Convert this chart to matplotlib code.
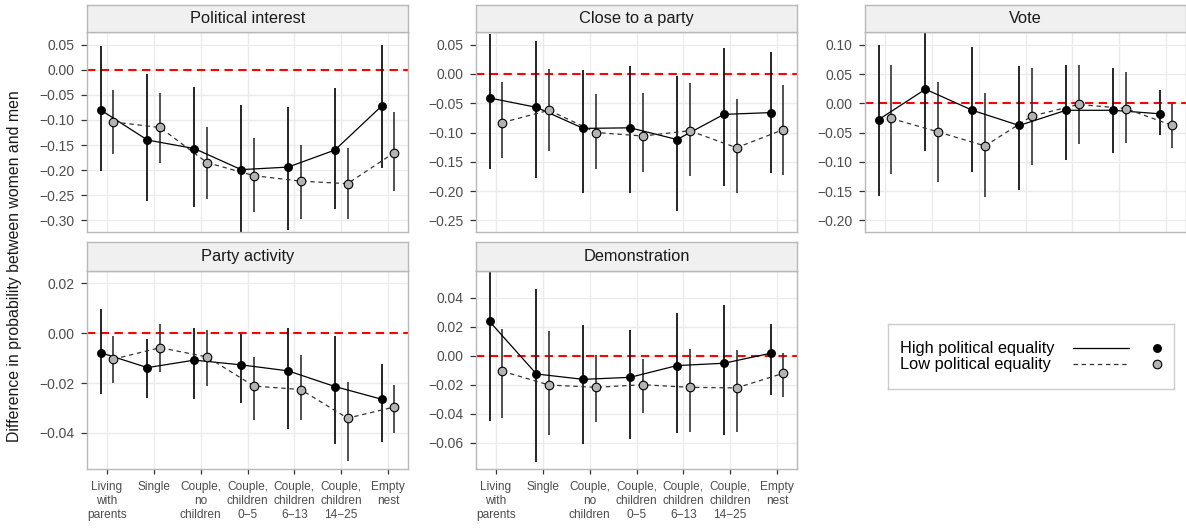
import matplotlib
matplotlib.use("Agg")
import matplotlib.pyplot as plt
from matplotlib.lines import Line2D
import numpy as np

plt.rcParams['font.family'] = ['Liberation Sans', 'DejaVu Sans']

categories = ["Living\nwith\nparents", "Single", "Couple,\nno\nchildren",
              "Couple,\nchildren\n0\u22125", "Couple,\nchildren\n6\u221213",
              "Couple,\nchildren\n14\u221225", "Empty\nnest"]
series_names = ["High political equality", "Low political equality"]

# Political interest
interest_high = [-0.080, -0.140, -0.157, -0.199, -0.194, -0.160, -0.072]
interest_high_lo = [-0.201, -0.261, -0.273, -0.327, -0.319, -0.277, -0.195]
interest_high_hi = [0.047, -0.008, -0.035, -0.071, -0.075, -0.037, 0.050]
interest_low = [-0.104, -0.115, -0.185, -0.211, -0.222, -0.227, -0.165]
interest_low_lo = [-0.167, -0.185, -0.257, -0.283, -0.297, -0.298, -0.241]
interest_low_hi = [-0.041, -0.047, -0.115, -0.135, -0.149, -0.155, -0.084]
interest_ticks = [0.05, 0.00, -0.05, -0.10, -0.15, -0.20, -0.25, -0.30]

# Close to a party
close_high = [-0.041, -0.057, -0.093, -0.092, -0.112, -0.069, -0.066]
close_high_lo = [-0.163, -0.177, -0.203, -0.203, -0.234, -0.191, -0.170]
close_high_hi = [0.068, 0.057, 0.007, 0.013, -0.003, 0.045, 0.037]
close_low = [-0.083, -0.062, -0.100, -0.106, -0.097, -0.126, -0.095]
close_low_lo = [-0.144, -0.131, -0.162, -0.168, -0.174, -0.203, -0.173]
close_low_hi = [-0.014, 0.009, -0.035, -0.033, -0.015, -0.043, -0.018]
close_ticks = [0.05, 0.00, -0.05, -0.10, -0.15, -0.20, -0.25]

# Vote
vote_high = [-0.028, 0.024, -0.012, -0.038, -0.012, -0.012, -0.018]
vote_high_lo = [-0.159, -0.082, -0.117, -0.148, -0.097, -0.085, -0.055]
vote_high_hi = [0.100, 0.130, 0.097, 0.063, 0.066, 0.061, 0.022]
vote_low = [-0.026, -0.049, -0.073, -0.022, -0.002, -0.009, -0.038]
vote_low_lo = [-0.121, -0.135, -0.161, -0.106, -0.069, -0.068, -0.076]
vote_low_hi = [0.066, 0.036, 0.017, 0.060, 0.066, 0.054, -0.002]
vote_ticks = [0.10, 0.05, 0.00, -0.05, -0.10, -0.15, -0.20]

# Party activity
activity_high = [-0.0078, -0.0138, -0.0108, -0.0127, -0.0151, -0.0214, -0.0265]
activity_high_lo = [-0.0245, -0.0259, -0.0263, -0.0281, -0.0386, -0.0446, -0.0435]
activity_high_hi = [0.0096, -0.0024, 0.0020, -0.0004, 0.0019, -0.0011, -0.0125]
activity_low = [-0.0104, -0.0058, -0.0095, -0.0212, -0.0226, -0.0341, -0.0296]
activity_low_lo = [-0.0201, -0.0155, -0.0212, -0.0349, -0.0348, -0.0513, -0.0399]
activity_low_hi = [-0.0011, 0.0039, 0.0012, -0.0094, -0.0088, -0.0196, -0.0208]
activity_ticks = [0.02, 0.00, -0.02, -0.04]

# Demonstration
demo_high = [0.0237, -0.0125, -0.0162, -0.0148, -0.0067, -0.0051, 0.0018]
demo_high_lo = [-0.0448, -0.0730, -0.0610, -0.0574, -0.0533, -0.0545, -0.0268]
demo_high_hi = [0.0920, 0.0459, 0.0210, 0.0180, 0.0295, 0.0353, 0.0217]
demo_low = [-0.0106, -0.0201, -0.0217, -0.0199, -0.0217, -0.0221, -0.0120]
demo_low_lo = [-0.0429, -0.0547, -0.0455, -0.0395, -0.0522, -0.0524, -0.0282]
demo_low_hi = [0.0187, 0.0170, 0.0007, -0.0021, 0.0048, 0.0037, 0.0018]
demo_ticks = [0.04, 0.02, 0.00, -0.02, -0.04, -0.06]

W, H = 1186, 529
fig = plt.figure(figsize=(W / 100, H / 100), dpi=100)
fig.patch.set_facecolor('white')

def fx(px):
    return px / W

def fy(px):
    return 1 - px / H

col_left = [87, 476, 865]
col_w = 321
rows = [(4.5, 32.3, 232.3), (242, 270.7, 469)]

GRID = '#EBEBEB'
BORDER = '#B8B8B8'
TXT = '#4D4D4D'

def make_panel(col, row, title, hi, hi_lo, hi_hi, lo, lo_lo, lo_hi, ticks, ylim, show_x):
    l = col_left[col]
    st, pt, pb = rows[row]
    ax = fig.add_axes([fx(l), fy(pb), fx(col_w), (pb - pt) / H])
    sax = fig.add_axes([fx(l), fy(pt), fx(col_w), (pt - st) / H])
    sax.set_facecolor('#F0F0F0')
    sax.set_xticks([]); sax.set_yticks([])
    for s in sax.spines.values():
        s.set_color(BORDER); s.set_linewidth(1.0)
    sax.text(0.5, 0.5, title, ha='center', va='center', fontsize=11.8,
             color='#1A1A1A', transform=sax.transAxes)

    x = np.arange(1, len(categories) + 1)
    d = 0.135
    ax.set_xlim(0.575, 7.425)
    ax.set_ylim(*ylim)
    ax.set_axisbelow(True)
    ax.grid(True, color=GRID, linewidth=1.0)
    ax.axhline(0, color='#FF0000', linewidth=1.5, dashes=(4, 2.6), zorder=1.5)

    xh = x - d
    xl = x + d
    ax.vlines(xh, hi_lo, hi_hi, color='black', linewidth=1.2, zorder=2)
    ax.plot(xh, hi, color='black', linewidth=0.9, zorder=3)
    ax.plot(xh, hi, 'o', color='black', markersize=5.4, zorder=4)
    ax.vlines(xl, lo_lo, lo_hi, color='#333333', linewidth=1.2, zorder=2)
    ax.plot(xl, lo, color='#333333', linewidth=0.9, dashes=(3.5, 3.0), zorder=3)
    ax.plot(xl, lo, 'o', markerfacecolor='#B3B3B3', markeredgecolor='black',
            markeredgewidth=0.8, markersize=6.2, zorder=5)

    ax.set_yticks(ticks)
    ax.set_yticklabels([f"{t:.2f}".replace('-', '\u2212') for t in ticks],
                       fontsize=10, color=TXT)
    ax.set_xticks(x)
    if show_x:
        ax.set_xticklabels(categories, fontsize=8.6, color=TXT, linespacing=1.25)
        ax.tick_params(axis='x', length=3.5, width=0.9, color='#333333', pad=5)
    else:
        ax.set_xticklabels([])
        ax.tick_params(axis='x', length=0)
    ax.tick_params(axis='y', length=4, width=0.9, color='#333333', pad=5)
    for s in ax.spines.values():
        s.set_color(BORDER); s.set_linewidth(1.0)
    return ax

make_panel(0, 0, "Political interest", interest_high, interest_high_lo, interest_high_hi,
           interest_low, interest_low_lo, interest_low_hi, interest_ticks, (-0.324, 0.0748), False)
make_panel(1, 0, "Close to a party", close_high, close_high_lo, close_high_hi,
           close_low, close_low_lo, close_low_hi, close_ticks, (-0.2705, 0.0712), False)
make_panel(2, 0, "Vote", vote_high, vote_high_lo, vote_high_hi,
           vote_low, vote_low_lo, vote_low_hi, vote_ticks, (-0.2206, 0.1213), False)
make_panel(0, 1, "Party activity", activity_high, activity_high_lo, activity_high_hi,
           activity_low, activity_low_lo, activity_low_hi, activity_ticks, (-0.0545, 0.0251), True)
make_panel(1, 1, "Demonstration", demo_high, demo_high_lo, demo_high_hi,
           demo_low, demo_low_lo, demo_low_hi, demo_ticks, (-0.078, 0.0587), True)

fig.text(fx(15), fy(266), "Difference in probability between women and men",
         rotation=90, ha='center', va='center', fontsize=11.4, color='#1A1A1A')

# legend
lx0, ly0, lx1, ly1 = 888, 324, 1174, 389
lax = fig.add_axes([fx(lx0), fy(ly1), fx(lx1 - lx0), (ly1 - ly0) / H])
lax.set_xlim(0, lx1 - lx0)
lax.set_ylim(ly1 - ly0, 0)
lax.set_xticks([]); lax.set_yticks([])
for s in lax.spines.values():
    s.set_color('#CCCCCC'); s.set_linewidth(1.0)
rows_y = [348 - ly0, 364 - ly0]
lax.text(12, rows_y[0], series_names[0], ha='left', va='center', fontsize=11.8, color='black')
lax.text(12, rows_y[1], series_names[1], ha='left', va='center', fontsize=11.8, color='black')
lax.add_line(Line2D([185, 241], [rows_y[0]] * 2, color='black', linewidth=0.9))
lax.add_line(Line2D([185, 241], [rows_y[1]] * 2, color='#333333', linewidth=0.9, dashes=(3.5, 3.0)))
lax.plot([269], [rows_y[0]], 'o', color='black', markersize=5.4)
lax.plot([269], [rows_y[1]], 'o', markerfacecolor='#B3B3B3', markeredgecolor='black',
         markeredgewidth=0.8, markersize=6.2)

fig.savefig("out.png", dpi=100)
